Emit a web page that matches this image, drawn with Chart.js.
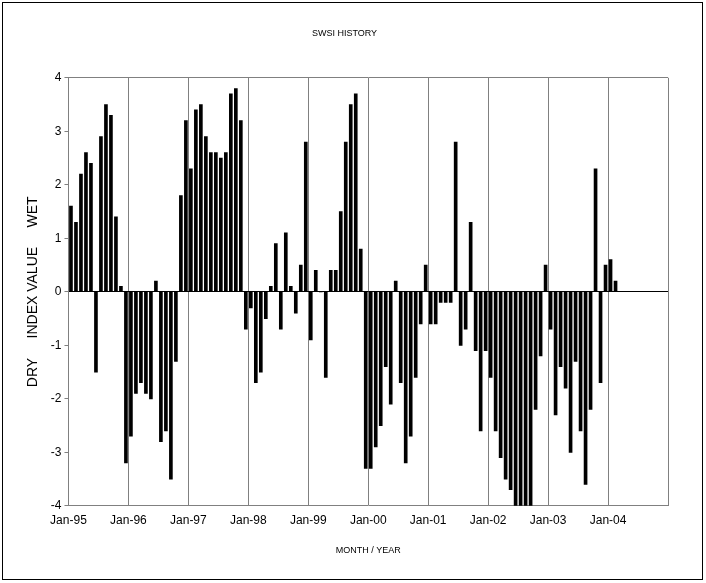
<!DOCTYPE html>
<html>
<head>
<meta charset="utf-8">
<script src="https://cdn.jsdelivr.net/npm/chart.js@4.4.1/dist/chart.umd.min.js"></script>
<style>
  body { margin: 0; background: #fff; }
  #wrap { width: 706px; height: 583px; position: relative; }
</style>
</head>
<body>
<div id="wrap"><canvas id="myChart"></canvas></div>
<script>
// monthly SWSI values, Jan-95 .. Feb-04
const swsi1995 = [1.6, 1.3, 2.2, 2.6, 2.4, -1.5, 2.9, 3.5, 3.3, 1.4, 0.1, -3.2];
const swsi1996 = [-2.7, -1.9, -1.7, -1.9, -2.0, 0.2, -2.8, -2.6, -3.5, -1.3, 1.8, 3.2];
const swsi1997 = [2.3, 3.4, 3.5, 2.9, 2.6, 2.6, 2.5, 2.6, 3.7, 3.8, 3.2, -0.7];
const swsi1998 = [-0.3, -1.7, -1.5, -0.5, 0.1, 0.9, -0.7, 1.1, 0.1, -0.4, 0.5, 2.8];
const swsi1999 = [-0.9, 0.4, 0, -1.6, 0.4, 0.4, 1.5, 2.8, 3.5, 3.7, 0.8, -3.3];
const swsi2000 = [-3.3, -2.9, -2.5, -1.4, -2.1, 0.2, -1.7, -3.2, -2.7, -1.6, -0.6, 0.5];
const swsi2001 = [-0.6, -0.6, -0.2, -0.2, -0.2, 2.8, -1.0, -0.7, 1.3, -1.1, -2.6, -1.1];
const swsi2002 = [-1.6, -2.6, -3.1, -3.5, -3.7, -4.2, -4.2, -4.2, -4.2, -2.2, -1.2, 0.5];
const swsi2003 = [-0.7, -2.3, -1.4, -1.8, -3.0, -1.3, -2.6, -3.6, -2.2, 2.3, -1.7, 0.5];
const swsi2004 = [0.6, 0.2];
const yearLabels = ['Jan-95', 'Jan-96', 'Jan-97', 'Jan-98', 'Jan-99', 'Jan-00', 'Jan-01', 'Jan-02', 'Jan-03', 'Jan-04'];

const values = [].concat(swsi1995, swsi1996, swsi1997, swsi1998, swsi1999,
                         swsi2000, swsi2001, swsi2002, swsi2003, swsi2004);
const points = values.map((v, i) => ({ x: i + 0.5, y: v }));

const frame = {
    id: 'frame',
    beforeDraw(chart) {
        const ctx = chart.ctx;
        ctx.save();
        ctx.fillStyle = '#fff';
        ctx.fillRect(0, 0, chart.width, chart.height);
        ctx.strokeStyle = '#000';
        ctx.lineWidth = 1;
        ctx.strokeRect(2.5, 2.5, 700, 577);
        ctx.restore();
    }
};

new Chart(document.getElementById('myChart').getContext('2d'), {
    type: 'bar',
    data: {
        datasets: [{
            data: points,
            backgroundColor: '#000',
            barThickness: 3
        }]
    },
    options: {
        responsive: true,
        maintainAspectRatio: false,
        animation: false,
        layout: { padding: { top: 28, right: 38, left: 21, bottom: 23 } },
        plugins: {
            legend: { display: false },
            tooltip: { enabled: false },
            title: {
                display: true,
                text: 'SWSI HISTORY',
                color: '#000',
                font: { family: 'Liberation Sans', size: 9, weight: 'normal' },
                padding: { top: 0, bottom: 39 }
            }
        },
        scales: {
            x: {
                type: 'linear',
                offset: false,
                min: 0,
                max: 120,
                ticks: {
                    stepSize: 12,
                    color: '#000',
                    font: { family: 'Liberation Sans', size: 12 },
                    maxRotation: 0,
                    padding: 8,
                    callback: v => yearLabels[v / 12] || ''
                },
                grid: { color: '#808080', drawTicks: false, offset: false },
                border: { color: '#808080' },
                title: {
                    display: true,
                    text: 'MONTH / YEAR',
                    color: '#000',
                    font: { family: 'Liberation Sans', size: 9 },
                    padding: { top: 9 }
                }
            },
            y: {
                min: -4,
                max: 4,
                ticks: {
                    stepSize: 1,
                    color: '#000',
                    font: { family: 'Liberation Sans', size: 12 },
                    padding: 3
                },
                grid: {
                    color: c => c.tick.value === 0 ? '#000' : (c.tick.value === 4 ? '#808080' : 'rgba(0,0,0,0)'),
                    tickLength: 4,
                    tickColor: '#808080'
                },
                border: { color: '#808080' },
                title: {
                    display: true,
                    text: 'DRY     INDEX VALUE     WET',
                    color: '#000',
                    font: { family: 'Liberation Sans', size: 14 },
                    padding: { bottom: 6 }
                }
            }
        }
    },
    plugins: [frame]
});
</script>
</body>
</html>
